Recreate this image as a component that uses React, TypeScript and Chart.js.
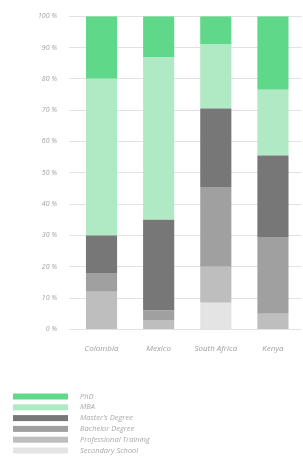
import React, { useEffect, useRef } from "react";
import { Chart, registerables } from "chart.js";

Chart.register(...registerables);

const categories = ["Colombia", "Mexico", "South Africa", "Kenya"];

// bottom-to-top stacking order
const secondarySchool = [0, 0, 8.5, 0];
const professionalTraining = [12, 3, 11.5, 5];
const bachelorDegree = [6, 3, 25.5, 24.5];
const mastersDegree = [12, 29, 25, 26];
const mba = [50, 52, 20.5, 21];
const phd = [20, 13, 9, 23.5];

const seriesLabels = [
  "Secondary School",
  "Professional Training",
  "Bachelor Degree",
  "Master's Degree",
  "MBA",
  "PhD",
];
const seriesColors = ["#e4e4e4", "#bebebe", "#a0a0a0", "#777777", "#afeac4", "#60d889"];

const FONT = '"Open Sans", sans-serif';

const legendPlugin = {
  id: "verticalLegend",
  afterDraw(chart: any) {
    const ctx = chart.ctx;
    const ds = chart.data.datasets.slice().reverse();
    ctx.save();
    ctx.font = `italic 7.5px ${FONT}`;
    ctx.textBaseline = "middle";
    ctx.textAlign = "left";
    ds.forEach((d: any, i: number) => {
      const y = 396.5 + i * 10.8;
      ctx.fillStyle = d.backgroundColor;
      ctx.fillRect(13, y - 3, 55, 6);
      ctx.fillStyle = "#a8a8a8";
      ctx.fillText(d.label, 80, y);
    });
    ctx.restore();
  },
};

export default function App() {
  const ref = useRef<HTMLCanvasElement | null>(null);

  useEffect(() => {
    document.body.style.margin = "0";
    const values = [secondarySchool, professionalTraining, bachelorDegree, mastersDegree, mba, phd];
    const chart = new Chart(ref.current as HTMLCanvasElement, {
      type: "bar",
      data: {
        labels: categories,
        datasets: values.map((v, i) => ({
          label: seriesLabels[i],
          data: v,
          backgroundColor: seriesColors[i],
          borderWidth: 0,
          barPercentage: 0.545,
          categoryPercentage: 1,
        })),
      },
      options: {
        animation: false,
        responsive: true,
        maintainAspectRatio: false,
        layout: { padding: { top: 12, left: 26, right: 1.5, bottom: 98 } },
        plugins: {
          legend: { display: false },
          tooltip: { enabled: false },
        },
        scales: {
          x: {
            stacked: true,
            grid: { display: false },
            border: { display: false },
            ticks: {
              color: "#a0a0a0",
              font: { family: FONT, size: 8, style: "italic" },
              padding: 7,
              maxRotation: 0,
            },
          },
          y: {
            stacked: true,
            min: 0,
            max: 100,
            border: { display: false },
            grid: { color: "#e2e2e2", lineWidth: 1, tickLength: 4 },
            ticks: {
              stepSize: 10,
              color: "#a0a0a0",
              padding: 12,
              font: { family: FONT, size: 7, style: "italic" },
              callback: (v: any) => `${v} %`,
            },
          },
        },
      },
      plugins: [legendPlugin],
    });
    return () => chart.destroy();
  }, []);

  return (
    <div style={{ width: 303, height: 459, position: "relative" }}>
      <canvas ref={ref} />
    </div>
  );
}
